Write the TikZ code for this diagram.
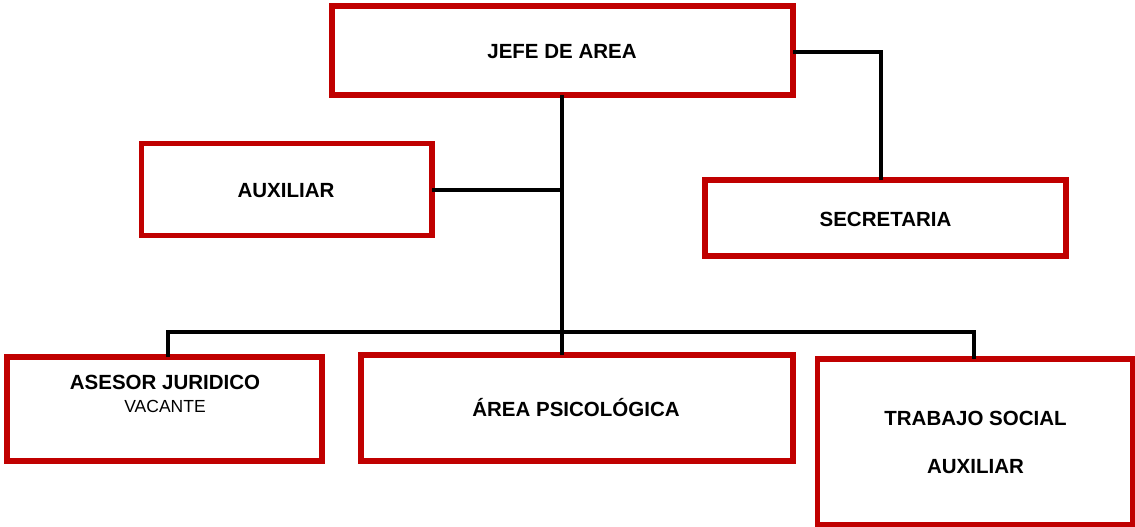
\documentclass[tikz,border=0pt]{standalone}
\usepackage{fontspec}
\setmainfont{Liberation Sans}
\definecolor{boxred}{HTML}{C00000}
\begin{document}
\begin{tikzpicture}[x=1pt,y=-1pt,
  orgbox/.style={draw=boxred, line width=5.5pt, fill=white, inner sep=0pt, outer sep=0pt},
  conn/.style={draw=black, line width=4pt},
  bold/.style={font=\fontsize{20.5}{24}\selectfont\bfseries, inner sep=0pt},
  plain/.style={font=\fontsize{17.5}{20}\selectfont, inner sep=0pt}]
\useasboundingbox (0,0) rectangle (1135,527);
% boxes
\node[orgbox, minimum width=461pt, minimum height=89pt] (jefe) at (562.5,50.5) {};
\node[orgbox, minimum width=290.5pt, minimum height=92pt] (aux) at (286.75,189.5) {};
\node[orgbox, minimum width=361pt, minimum height=76pt] (sec) at (885.5,218) {};
\node[orgbox, minimum width=315pt, minimum height=104pt] (ases) at (164.5,409) {};
\node[orgbox, minimum width=432pt, minimum height=106pt] (area) at (577,408) {};
\node[orgbox, minimum width=315pt, minimum height=165.5pt] (trab) at (975,441.75) {};
% connector coordinates
\coordinate (busL) at (168,332);
\coordinate (busM) at (562,332);
\coordinate (busR) at (974,332);
\coordinate (secTop) at (881,52);
% connectors
\draw[conn] (jefe.south -| busM) -- (area.north -| busM);
\draw[conn] (aux.east) -- (aux.east -| busM);
\draw[conn, line join=miter] (jefe.east |- secTop) -- (secTop) -- (sec.north -| secTop);
\draw[conn, line join=miter] (ases.north -| busL) -- (busL) -- (busR) -- (trab.north -| busR);
% texts
\node[bold] (tjefe) at (562,52) {JEFE DE AREA};
\node[bold] (taux) at (286,191) {AUXILIAR};
\node[bold] (tsec) at (885.5,219) {SECRETARIA};
\node[bold] (tases) at (165,382) {ASESOR JURIDICO};
\node[plain] (tvac) at (165,406) {VACANTE};
\node[bold] (tarea) at (576,408) {ÁREA PSICOLÓGICA};
\node[bold] (ttrab) at (975.5,418) {TRABAJO SOCIAL};
\node[bold] (ttaux) at (975.5,467) {AUXILIAR};
\end{tikzpicture}
\end{document}
